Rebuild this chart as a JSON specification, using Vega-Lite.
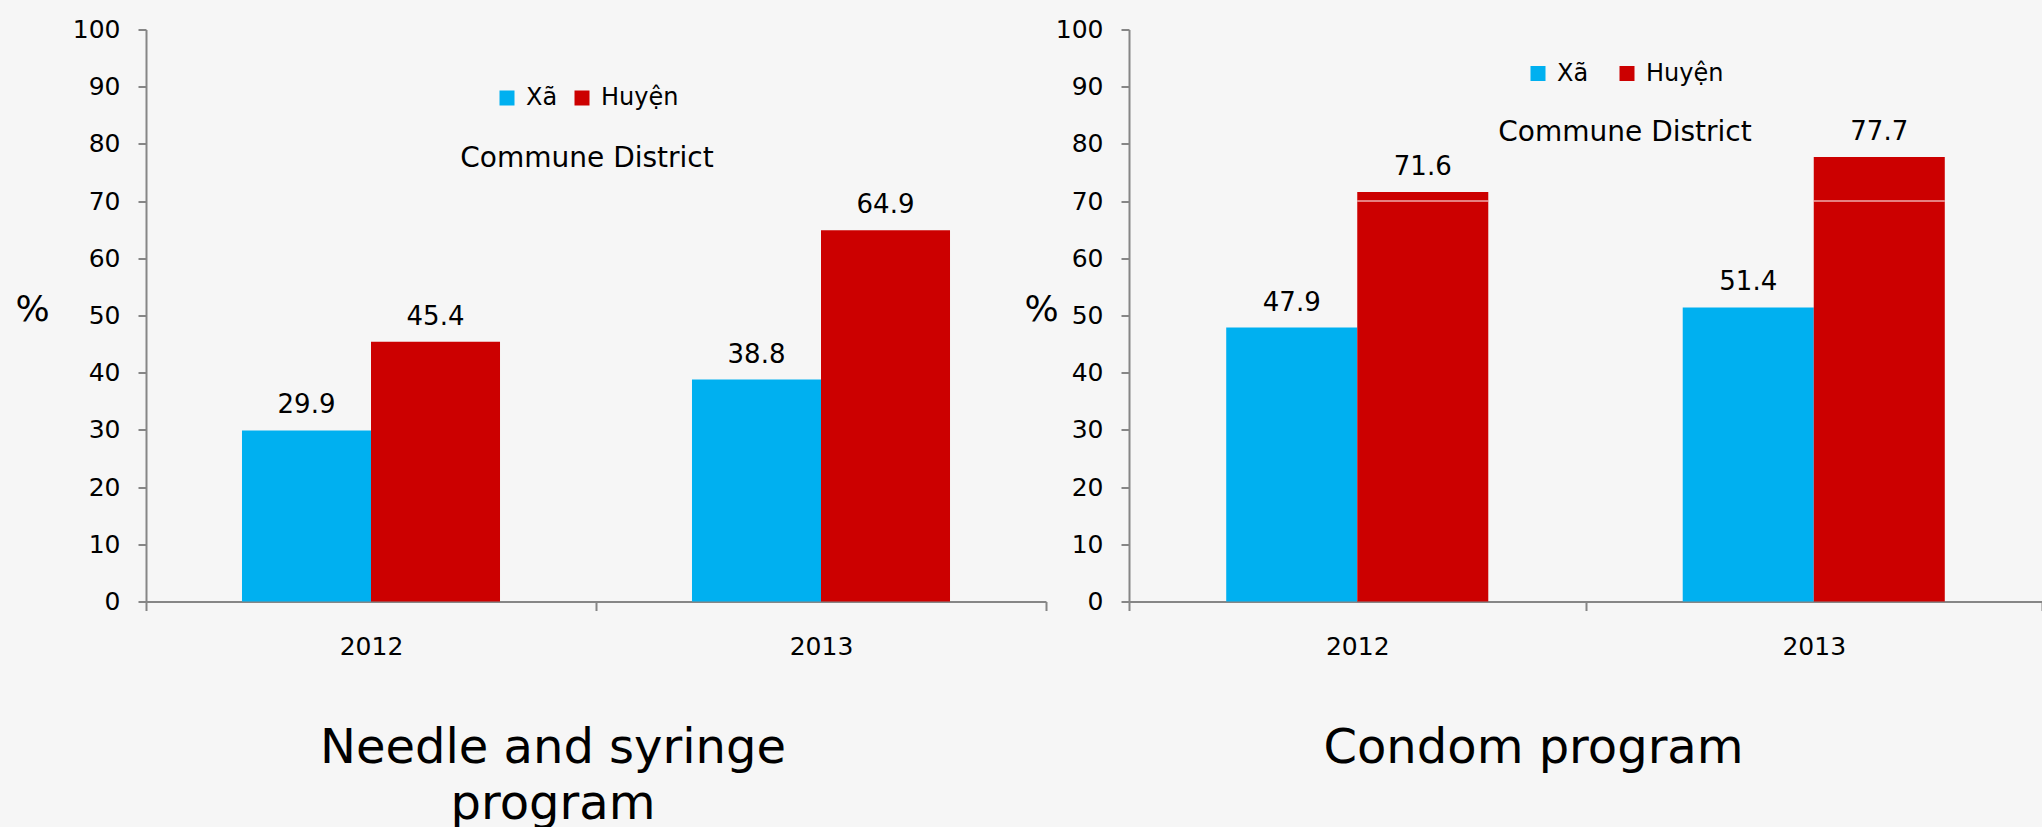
{
  "$schema": "https://vega.github.io/schema/vega-lite/v6.json",
  "autosize": {"type": "none"},
  "padding": {"left": 146, "top": 29.5, "right": 1896, "bottom": 797.5},
  "background": "#f6f6f6",
  "config": {
    "font": "DejaVu Sans",
    "view": {"stroke": null},
    "axis": {"labelColor": "black", "titleColor": "black", "domainColor": "#868686", "tickColor": "#868686", "domainWidth": 2, "tickWidth": 2, "grid": false, "labelFontSize": 25}
  },
  "datasets": {
    "needle": [
      {"year": "2012", "group": "Xã", "value": 29.9},
      {"year": "2012", "group": "Huyện", "value": 45.4},
      {"year": "2013", "group": "Xã", "value": 38.8},
      {"year": "2013", "group": "Huyện", "value": 64.9}
    ],
    "condom": [
      {"year": "2012", "group": "Xã", "value": 47.9},
      {"year": "2012", "group": "Huyện", "value": 71.6},
      {"year": "2013", "group": "Xã", "value": 51.4},
      {"year": "2013", "group": "Huyện", "value": 77.7}
    ]
  },
  "spacing": 83,
  "bounds": "flush",
  "resolve": {"scale": {"color": "independent", "y": "independent", "x": "independent", "xOffset": "independent"}, "legend": {"color": "independent"}},
  "hconcat": [
    {
      "width": 900,
      "height": 572,
      "data": {"name": "needle"},
      "title": {"text": ["Needle and syringe", "program"], "orient": "bottom", "frame": "group", "fontSize": 48, "fontWeight": "normal", "lineHeight": 56, "offset": 66, "dx": -43, "color": "black"},
      "layer": [
        {
          "mark": {"type": "bar"},
          "encoding": {
            "x": {"field": "year", "type": "nominal", "scale": {"paddingInner": 0, "paddingOuter": 0}, "axis": {"title": null, "labelAngle": 0, "tickBand": "extent", "tickSize": 9, "labelPadding": 23.6}},
            "xOffset": {"field": "group", "type": "nominal", "sort": ["Xã", "Huyện"], "scale": {"paddingInner": 0, "paddingOuter": 0.744}},
            "y": {"field": "value", "type": "quantitative", "scale": {"domain": [0, 100]}, "axis": {"values": [0, 10, 20, 30, 40, 50, 60, 70, 80, 90, 100], "tickSize": 8, "labelPadding": 18, "title": "%", "titleFontSize": 36, "titleFontWeight": "normal", "titleAngle": 0, "titleX": -114, "titleY": 290.5, "titleAlign": "center", "titleBaseline": "alphabetic"}},
            "color": {"field": "group", "type": "nominal", "sort": ["Xã", "Huyện"], "scale": {"domain": ["Xã", "Huyện"], "range": ["#00B0F0", "#CC0000"]},
              "legend": {"orient": "none", "direction": "horizontal", "legendX": 314, "legendY": 56.5, "title": "Commune District", "titleLimit": 600, "titleOrient": "bottom", "titleAnchor": "middle", "titleFontSize": 28, "titleFontWeight": "normal", "titleColor": "black", "titlePadding": 35, "labelFontSize": 24, "labelColor": "black", "labelOffset": 7, "columnPadding": 12, "symbolType": "square", "symbolSize": 225, "symbolStrokeWidth": 0, "symbolOpacity": 1, "padding": 0}}
          }
        },
        {
          "mark": {"type": "text", "fontSize": 26, "baseline": "alphabetic", "dy": -17, "color": "black"},
          "encoding": {
            "x": {"field": "year", "type": "nominal"},
            "xOffset": {"field": "group", "type": "nominal", "sort": ["Xã", "Huyện"]},
            "y": {"field": "value", "type": "quantitative"},
            "text": {"field": "value", "type": "quantitative", "format": ".1f"}
          }
        }
      ]
    },
    {
      "width": 913,
      "height": 572,
      "data": {"name": "condom"},
      "title": {"text": "Condom program", "orient": "bottom", "frame": "group", "fontSize": 48, "fontWeight": "normal", "lineHeight": 56, "offset": 66, "dx": -52, "color": "black"},
      "layer": [
        {
          "mark": {"type": "bar"},
          "encoding": {
            "x": {"field": "year", "type": "nominal", "scale": {"paddingInner": 0, "paddingOuter": 0}, "axis": {"title": null, "labelAngle": 0, "tickBand": "extent", "tickSize": 9, "labelPadding": 23.6}},
            "xOffset": {"field": "group", "type": "nominal", "sort": ["Xã", "Huyện"], "scale": {"paddingInner": 0, "paddingOuter": 0.742}},
            "y": {"field": "value", "type": "quantitative", "scale": {"domain": [0, 100]}, "axis": {"values": [0, 10, 20, 30, 40, 50, 60, 70, 80, 90, 100], "tickSize": 8, "labelPadding": 18, "title": "%", "titleFontSize": 36, "titleFontWeight": "normal", "titleAngle": 0, "titleX": -88, "titleY": 290.5, "titleAlign": "center", "titleBaseline": "alphabetic"}},
            "color": {"field": "group", "type": "nominal", "sort": ["Xã", "Huyện"], "scale": {"domain": ["Xã", "Huyện"], "range": ["#00B0F0", "#CC0000"]},
              "legend": {"orient": "none", "direction": "horizontal", "legendX": 369, "legendY": 32, "title": "Commune District", "titleLimit": 600, "titleOrient": "bottom", "titleAnchor": "middle", "titleFontSize": 28, "titleFontWeight": "normal", "titleColor": "black", "titlePadding": 33, "labelFontSize": 24, "labelColor": "black", "labelOffset": 7, "columnPadding": 26, "symbolType": "square", "symbolSize": 225, "symbolStrokeWidth": 0, "symbolOpacity": 1, "padding": 0}}
          }
        },
        {
          "transform": [{"filter": "datum.value > 70"}],
          "mark": {"type": "bar", "color": "white"},
          "encoding": {
            "x": {"field": "year", "type": "nominal"},
            "xOffset": {"field": "group", "type": "nominal", "sort": ["Xã", "Huyện"]},
            "y": {"datum": 70.1},
            "y2": {"datum": 69.93}
          }
        },
        {
          "mark": {"type": "text", "fontSize": 26, "baseline": "alphabetic", "dy": -17, "color": "black"},
          "encoding": {
            "x": {"field": "year", "type": "nominal"},
            "xOffset": {"field": "group", "type": "nominal", "sort": ["Xã", "Huyện"]},
            "y": {"field": "value", "type": "quantitative"},
            "text": {"field": "value", "type": "quantitative", "format": ".1f"}
          }
        }
      ]
    }
  ]
}
